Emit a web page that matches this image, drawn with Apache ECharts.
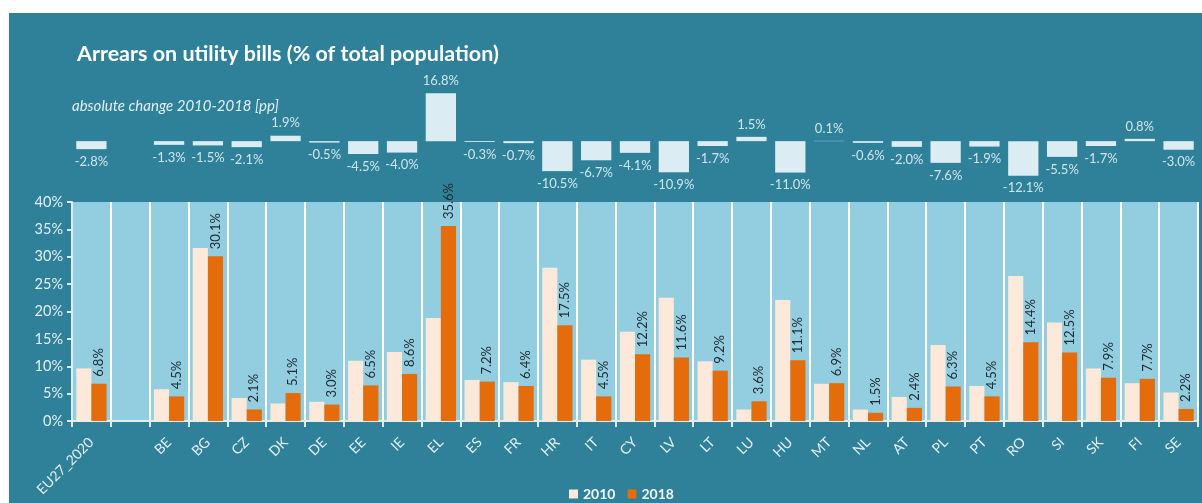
<!DOCTYPE html>
<html>
<head>
<meta charset="utf-8">
<script src="https://cdn.jsdelivr.net/npm/echarts@6/dist/echarts.min.js"></script>
<style>
  html, body { margin: 0; padding: 0; background: #ffffff; }
  #chart { width: 1202px; height: 503px; }
</style>
</head>
<body>
<div id="chart"></div>
<script>
// Country codes; the empty entry leaves a gap after the EU aggregate
const categories = ['EU27_2020', '', 'BE', 'BG', 'CZ', 'DK', 'DE', 'EE', 'IE', 'EL', 'ES', 'FR', 'HR', 'IT',
  'CY', 'LV', 'LT', 'LU', 'HU', 'MT', 'NL', 'AT', 'PL', 'PT', 'RO', 'SI', 'SK', 'FI', 'SE'];

// Share of population in arrears on utility bills (%)
const values2010 = [9.6, null, 5.8, 31.6, 4.2, 3.2, 3.5, 11.0, 12.6, 18.8, 7.5, 7.1, 28.0, 11.2,
  16.3, 22.5, 10.9, 2.1, 22.1, 6.8, 2.1, 4.4, 13.9, 6.4, 26.5, 18.0, 9.6, 6.9, 5.2];
const values2018 = [6.8, null, 4.5, 30.1, 2.1, 5.1, 3.0, 6.5, 8.6, 35.6, 7.2, 6.4, 17.5, 4.5,
  12.2, 11.6, 9.2, 3.6, 11.1, 6.9, 1.5, 2.4, 6.3, 4.5, 14.4, 12.5, 7.9, 7.7, 2.2];

// Absolute change 2010-2018 in percentage points
const change = [-2.8, null, -1.3, -1.5, -2.1, 1.9, -0.5, -4.5, -4.0, 16.8, -0.3, -0.7, -10.5, -6.7,
  -4.1, -10.9, -1.7, 1.5, -11.0, 0.1, -0.6, -2.0, -7.6, -1.9, -12.1, -5.5, -1.7, 0.8, -3.0];

const yTicks = { min: 0, max: 40, interval: 5 };

const FONT = 'Lato, "Open Sans", sans-serif';
const PANEL = '#2f8199';
const LIGHT = '#e3f0f5';

const chart = echarts.init(document.getElementById('chart'), null, { renderer: 'canvas' });

const changeData = change.map(v => v === null ? null : {
  value: v,
  label: { position: v >= 0 ? 'top' : 'bottom' }
});

chart.setOption({
  animation: false,
  backgroundColor: '#ffffff',
  textStyle: { fontFamily: FONT },
  graphic: [
    { type: 'rect', z: -10, shape: { x: 9, y: 13, width: 1193, height: 490 }, style: { fill: PANEL } }
  ],
  title: [
    {
      text: 'Arrears on utility bills (% of total population)',
      left: 72, top: 38,
      textStyle: { color: '#ffffff', fontSize: 21.5, fontWeight: 'bold', fontFamily: FONT }
    },
    {
      text: 'absolute change 2010-2018 [pp]',
      left: 67, top: 94,
      textStyle: { color: LIGHT, fontSize: 15, fontStyle: 'italic', fontWeight: 'normal', fontFamily: FONT }
    }
  ],
  legend: {
    left: 564, top: 482,
    itemWidth: 9, itemHeight: 9, itemGap: 12,
    icon: 'rect',
    textStyle: { color: '#f2f8fa', fontSize: 14, fontWeight: 'bold', fontFamily: FONT },
    data: ['2010', '2018']
  },
  grid: [
    { left: 72, right: 4, top: 84, height: 100, show: false },
    { left: 72, right: 4, top: 202, bottom: 82, show: true, backgroundColor: '#93cde0', borderWidth: 0 }
  ],
  xAxis: [
    {
      type: 'category', gridIndex: 0, data: categories,
      axisLine: { show: false }, axisTick: { show: false }, axisLabel: { show: false }, splitLine: { show: false }
    },
    {
      type: 'category', gridIndex: 1, data: categories,
      axisLine: { show: true, lineStyle: { color: '#dceff5', width: 2 } },
      axisTick: { show: true, length: 6, lineStyle: { color: '#dceff5', width: 2 } },
      splitLine: { show: true, lineStyle: { color: '#ffffff', width: 2 } },
      axisLabel: {
        interval: 0, rotate: 45, margin: 19,
        color: LIGHT, fontSize: 14, fontFamily: FONT
      }
    }
  ],
  yAxis: [
    {
      type: 'value', gridIndex: 0, min: -15, max: 20,
      show: false, splitLine: { show: false }
    },
    {
      type: 'value', gridIndex: 1, min: yTicks.min, max: yTicks.max, interval: yTicks.interval,
      axisLine: { show: true, lineStyle: { color: '#dceff5', width: 2 } },
      axisTick: { show: true, length: 5, lineStyle: { color: '#dceff5', width: 2 } },
      splitLine: { show: false },
      axisLabel: { color: LIGHT, fontSize: 14.5, margin: 9, formatter: '{value}%', fontFamily: FONT }
    }
  ],
  series: [
    {
      name: 'change', type: 'bar', xAxisIndex: 0, yAxisIndex: 0,
      data: changeData,
      barCategoryGap: '22%',
      itemStyle: { color: '#dbedf3' },
      label: {
        show: true, distance: 6,
        color: '#cfe5ed', fontSize: 13, fontFamily: FONT,
        formatter: p => p.value.toFixed(1) + '%'
      }
    },
    {
      name: '2010', type: 'bar', xAxisIndex: 1, yAxisIndex: 1,
      data: values2010,
      barGap: '0%', barCategoryGap: '22%',
      itemStyle: { color: '#fde9da' }
    },
    {
      name: '2018', type: 'bar', xAxisIndex: 1, yAxisIndex: 1,
      data: values2018,
      barGap: '0%', barCategoryGap: '22%',
      itemStyle: { color: '#e46c0a' },
      label: {
        show: true, position: 'top', rotate: 90, align: 'left', verticalAlign: 'middle', distance: 7,
        color: '#1d2a30', fontSize: 13, fontFamily: FONT,
        formatter: p => p.value.toFixed(1) + '%'
      }
    }
  ]
});
</script>
</body>
</html>
